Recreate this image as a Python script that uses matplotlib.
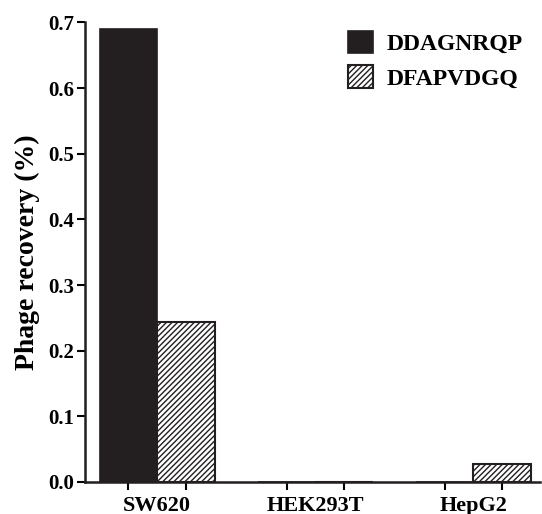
import matplotlib
matplotlib.use("Agg")
import matplotlib.pyplot as plt
import numpy as np

plt.rcParams['font.family'] = ['Liberation Serif', 'DejaVu Serif']
plt.rcParams['font.weight'] = 'bold'
plt.rcParams['hatch.linewidth'] = 1.0

categories = ["SW620", "HEK293T", "HepG2"]
series_names = ["DDAGNRQP", "DFAPVDGQ"]
ddagnrqp = [0.690, 0.0, 0.0]
dfapvdgq = [0.244, 0.0, 0.027]
yticks = [0.0, 0.1, 0.2, 0.3, 0.4, 0.5, 0.6, 0.7]

fig = plt.figure(figsize=(5.42, 5.14), dpi=100)
ax = fig.add_axes([0.157, 0.0623, 0.839, 0.894])

x = np.arange(len(categories))
w = 0.364
b1 = ax.bar(x - w/2, ddagnrqp, w, color='#231f20', edgecolor='#231f20', linewidth=1.2,
            label=series_names[0])
b2 = ax.bar(x + w/2, dfapvdgq, w, color='white', edgecolor='#231f20', linewidth=1.5,
            hatch='//////', label=series_names[1])

ax.set_xlim(-0.456, 2.42)
ax.set_ylim(0, 0.7)
ax.set_yticks(yticks)
ax.set_yticklabels([f"{v:.1f}" for v in yticks], fontsize=15, fontweight='bold')

bar_centers = np.concatenate([x - w/2, x + w/2])
ax.set_xticks(bar_centers)
ax.set_xticklabels([''] * len(bar_centers))
ax.set_xticks(x, minor=True)
ax.set_xticklabels(categories, minor=True, fontsize=16, fontweight='bold')
ax.tick_params(axis='x', which='minor', length=0, pad=10)
ax.tick_params(axis='x', which='major', length=6, width=1.5, direction='out')
ax.tick_params(axis='y', length=6, width=1.5, direction='out', pad=2)

for s in ['top', 'right']:
    ax.spines[s].set_visible(False)
for s in ['left', 'bottom']:
    ax.spines[s].set_linewidth(1.8)
    ax.spines[s].set_color('#231f20')
    ax.spines[s].set_zorder(3)

ax.set_ylabel("Phage recovery (%)", fontsize=20, fontweight='bold', labelpad=6)

leg = ax.legend(loc='upper right', bbox_to_anchor=(0.998, 1.018), frameon=False,
                prop={'size': 17, 'weight': 'bold'}, handlelength=1.05, handleheight=1.1,
                handletextpad=0.55, labelspacing=0.42, borderaxespad=0.3)

fig.savefig("out.png", dpi=100)
